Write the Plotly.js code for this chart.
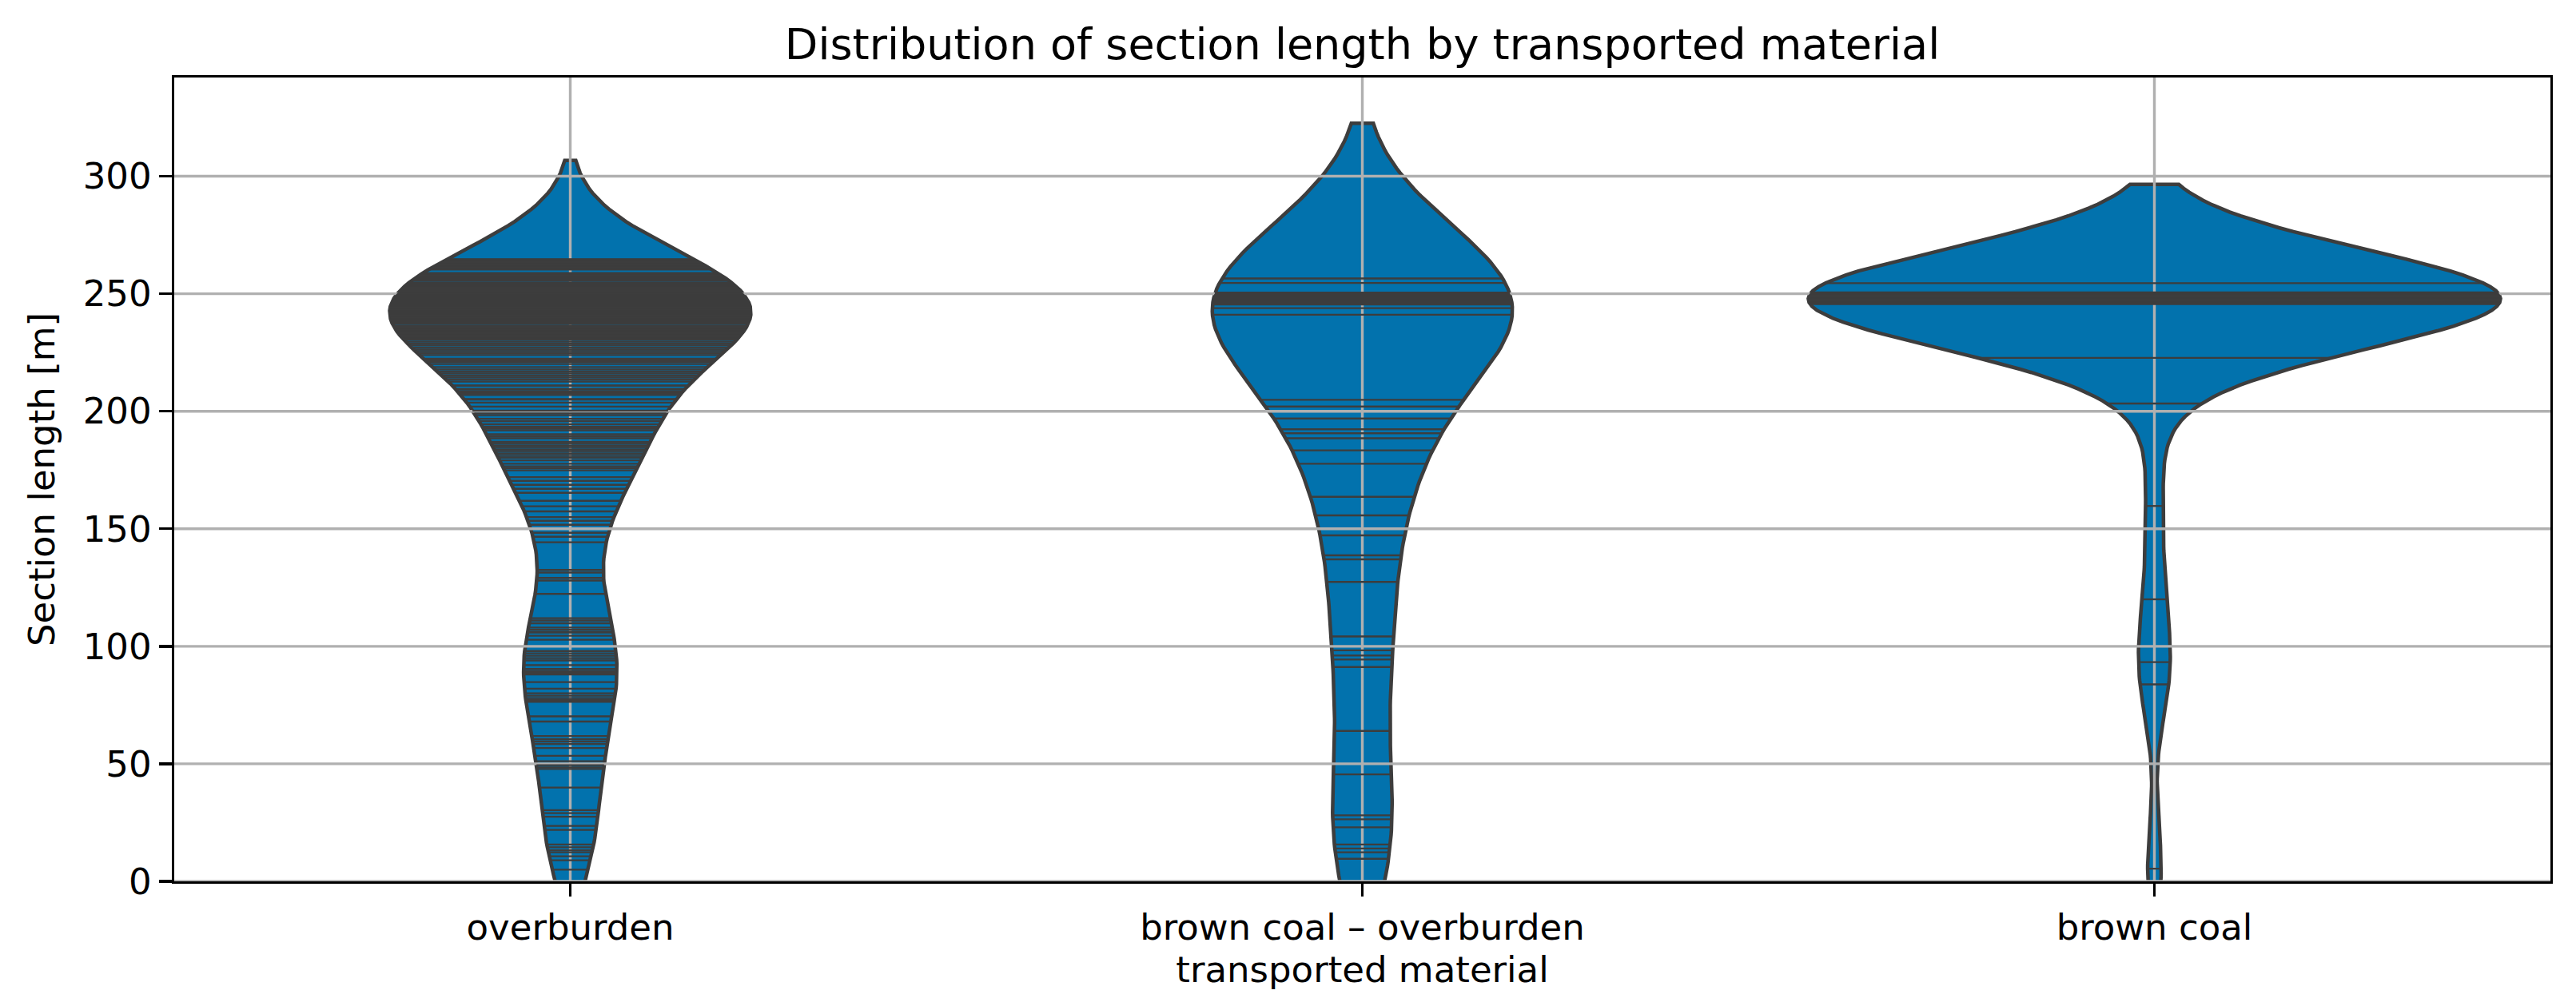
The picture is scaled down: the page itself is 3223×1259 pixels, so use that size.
<!DOCTYPE html>
<html>
<head>
<meta charset="utf-8">
<script src="https://cdn.plot.ly/plotly-3.0.1.min.js"></script>
<style>html,body{margin:0;padding:0;background:#fff;}#chart{width:3223px;height:1259px;}</style>
</head>
<body>
<div id="chart"></div>
<script>
// ---------------- data ----------------
const categories = ['overburden', 'brown coal – overburden', 'brown coal'];

// section lengths [m], overburden conveyors
const overburdenLengths = [
  264.7, 264.5, 264.2, 263.8, 263.5, 263.1, 262.6, 262.4, 261.9, 261.5, 261.1, 260.6, 260.3,
  258.8, 258.4, 258.1, 257.7, 257.2, 256.9, 256.4, 256.0, 255.7,
  254.8, 254.4, 254.1, 253.8, 253.3, 253.0, 252.7, 252.2, 251.9, 251.5, 251.2, 250.8, 250.5, 250.1,
  249.8, 249.5, 249.3, 249.0, 249.0, 248.6, 248.4, 248.3, 248.0, 248.0, 247.7, 247.4, 247.2, 247.1,
  246.8, 246.5, 246.3, 246.2, 246.0, 245.7, 245.5, 245.4, 245.1, 245.0, 244.8, 244.6, 244.5, 244.3,
  244.0, 244.0, 243.6, 243.3, 243.0, 242.7,
  242.4, 242.1, 241.8, 241.5, 241.2, 240.9, 240.6, 240.3, 240.0, 239.7, 239.3, 239.0, 238.7, 238.4,
  238.1, 237.7, 237.4, 237.1,
  236.2, 235.5, 235.0, 234.6, 234.0, 233.6, 233.3, 232.8, 232.2, 231.6, 231.0, 230.5,
  229.6, 228.7, 228.0, 227.0, 226.2, 225.5, 224.7, 223.9, 222.4, 221.6, 220.9, 220.1,
  218.8, 217.8, 216.9, 216.1, 215.2, 214.4, 213.5, 212.6, 211.0, 210.9, 209.5, 208.6, 208.0,
  207.5, 206.9, 205.2, 205.0, 203.7, 202.0, 200.3,
  199.1, 198.3, 196.8, 195.8, 194.5, 193.5, 192.7, 191.9, 190.2, 189.3, 188.5, 187.0, 186.9,
  186.2, 185.3, 184.5, 183.6, 182.8, 181.9, 181.0, 180.2, 179.1, 177.7, 176.6, 175.8, 174.9,
  172.0, 170.4, 168.7, 167.0, 165.3, 161.9, 159.6,
  157.4, 155.0, 153.4, 151.7, 148.3, 146.6, 144.3, 132.5, 131.4, 129.1, 128.0, 122.3, 112.0,
  111.0, 109.8, 108.0, 107.0, 106.0, 105.9, 104.5, 102.8,
  98.0, 97.0, 96.0, 95.0, 94.0, 92.0, 90.4, 89.5, 88.7, 88.0, 84.8, 82.0, 80.0, 79.0, 78.0,
  77.2, 76.4, 70.2, 68.0, 61.8, 60.5, 59.5, 58.4, 56.7, 53.4, 51.1, 49.4, 48.5, 47.8, 39.9,
  30.3, 29.0, 27.5, 23.6, 21.9, 15.7, 14.5, 13.2, 12.4, 10.7, 9.0, 5.0
];

// section lengths [m], mixed brown coal – overburden conveyors
const mixedLengths = [
  256.5, 254.6,
  250.5, 250.3, 250.1, 250.0, 249.8, 249.6, 249.5, 249.4, 249.3, 249.1, 249.0, 248.8, 248.6,
  248.5, 248.3, 248.2, 248.1, 248.0, 248.0, 247.9, 247.8, 247.6, 247.5, 247.3, 247.1, 247.0,
  246.8, 246.6, 246.5, 246.3, 246.1, 246.0, 245.9, 245.7, 245.5, 245.4,
  243.9, 241.1,
  204.9, 202.0, 202.0, 196.9, 196.9, 192.4, 192.4, 190.7, 190.7, 188.5, 183.4, 177.7, 163.6,
  155.7, 147.2, 138.7, 137.0, 127.4, 104.2, 98.3, 96.1, 94.4, 91.2, 64.0, 45.5, 28.1, 26.4,
  23.0, 15.7, 14.0, 12.4, 9.6
];

// section lengths [m], brown coal conveyors
const brownCoalLengths = [
  254.5,
  250.6, 250.4, 250.2, 250.0, 250.0, 249.8, 249.6, 249.5, 249.3, 249.1, 249.0, 248.9, 248.7,
  248.5, 248.5, 248.4, 248.2, 248.0, 248.0, 248.0, 247.9, 247.7, 247.6, 247.5, 247.5, 247.3,
  247.2, 247.0, 247.0, 246.9, 246.8, 246.6, 246.5, 246.4, 246.2, 246.0, 246.0, 245.9, 245.8,
  245.6, 248.1, 247.8, 248.3, 247.4, 248.6, 249.2, 246.7, 247.1, 248.8, 249.4,
  222.7, 203.3, 159.7, 120.0, 93.3, 83.8, 5.4
];

const seriesValues = [overburdenLengths, mixedLengths, brownCoalLengths];
const kdeBandwidths = [21, 33, 21];          // Gaussian KDE bandwidths [m]
const yTickValues = [0, 50, 100, 150, 200, 250, 300];
const yAxisRange = [0, 342];

// ---------------- style ----------------
const FONT = 'DejaVu Sans';
const FILL = '#0272ad';
const EDGE = '#3d3d3d';
const GRID = '#b0b0b0';
const HALF_WIDTH = 0.437;

// ---------------- KDE helpers ----------------
function makeKde(vals, h) {
  const c = 1 / (vals.length * h * Math.sqrt(2 * Math.PI));
  return y => {
    let s = 0;
    for (const v of vals) { const z = (y - v) / h; s += Math.exp(-0.5 * z * z); }
    return c * s;
  };
}

const kdes = seriesValues.map((vals, i) => {
  const h = kdeBandwidths[i];
  const f = makeKde(vals, h);
  const lo = Math.min(...vals) - 2 * h, hi = Math.max(...vals) + 2 * h;
  const N = 200, ys = [], ds = [];
  for (let k = 0; k < N; k++) { const y = lo + (hi - lo) * k / (N - 1); ys.push(y); ds.push(f(y)); }
  return { f, ys, ds, max: Math.max(...ds) };
});
const globalMax = Math.max(...kdes.map(k => k.max));
const scale = HALF_WIDTH / globalMax;

const traces = [];

// violin bodies
kdes.forEach((k, i) => {
  const xs = [], ys = [];
  for (let j = 0; j < k.ys.length; j++) { xs.push(i + k.ds[j] * scale); ys.push(k.ys[j]); }
  for (let j = k.ys.length - 1; j >= 0; j--) { xs.push(i - k.ds[j] * scale); ys.push(k.ys[j]); }
  xs.push(xs[0]); ys.push(ys[0]);
  traces.push({
    type: 'scatter', mode: 'lines', x: xs, y: ys, fill: 'toself', fillcolor: FILL,
    line: { color: EDGE, width: 4.5 }, hoverinfo: 'skip', showlegend: false
  });
});

// grid lines (above violin bodies, below sticks, as in matplotlib)
const gx = [], gy = [];
yTickValues.forEach(v => { gx.push(-0.5, 2.5, null); gy.push(v, v, null); });
categories.forEach((c, i) => { gx.push(i, i, null); gy.push(yAxisRange[0], yAxisRange[1], null); });
traces.push({
  type: 'scatter', mode: 'lines', x: gx, y: gy, line: { color: GRID, width: 3.4 },
  hoverinfo: 'skip', showlegend: false
});

// sticks
kdes.forEach((k, i) => {
  const sx = [], sy = [];
  seriesValues[i].forEach(v => {
    const w = k.f(v) * scale;
    sx.push(i - w, i + w, null); sy.push(v, v, null);
  });
  traces.push({
    type: 'scatter', mode: 'lines', x: sx, y: sy, line: { color: EDGE, width: 2.3 },
    hoverinfo: 'skip', showlegend: false
  });
});

const axisCommon = {
  showline: true, mirror: true, linecolor: '#000', linewidth: 3.4,
  ticks: 'outside', ticklen: 16, tickwidth: 3.4, tickcolor: '#000',
  showgrid: false, zeroline: false, automargin: false,
  tickfont: { family: FONT, size: 45, color: '#000' }
};

const layout = {
  width: 3223, height: 1259,
  paper_bgcolor: '#fff', plot_bgcolor: '#fff',
  margin: { l: 218, r: 32, t: 97, b: 156 },
  showlegend: false,
  title: {
    text: 'Distribution of section length by transported material',
    font: { family: FONT, size: 54, color: '#000' },
    x: 0.5, xref: 'paper', xanchor: 'center', y: 1 - 55 / 1259, yref: 'container', yanchor: 'middle'
  },
  xaxis: Object.assign({}, axisCommon, {
    range: [-0.5, 2.5], tickmode: 'array', tickvals: categories.map((c, i) => i), ticktext: categories,
    title: { text: 'transported material', font: { family: FONT, size: 45, color: '#000' }, standoff: 8 }
  }),
  yaxis: Object.assign({}, axisCommon, {
    range: yAxisRange, tickmode: 'array', tickvals: yTickValues, ticktext: yTickValues.map(String),
    title: { text: 'Section length [m]', font: { family: FONT, size: 45, color: '#000' }, standoff: 22 }
  })
};

Plotly.newPlot('chart', traces, layout, { displayModeBar: false, staticPlot: true });
</script>
</body>
</html>
